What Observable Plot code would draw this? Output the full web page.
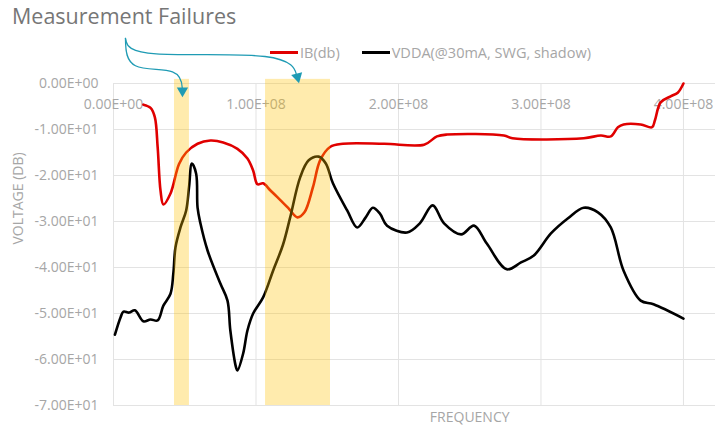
<!DOCTYPE html>
<html>
<head>
<meta charset="utf-8">
<script src="https://cdn.jsdelivr.net/npm/d3@7"></script>
<script src="https://cdn.jsdelivr.net/npm/@observablehq/plot@0.6"></script>
<style>
  html, body { margin: 0; padding: 0; background: #fff; }
  #wrap { position: relative; width: 715px; height: 425px; font-family: "Open Sans", sans-serif; }
  #title { position: absolute; left: 12px; top: 1px; font-size: 21.5px; color: #767676; }
  #legend { position: absolute; left: 270px; top: 43px; font-size: 14.5px; color: #a6a6a6; display: flex; align-items: center; white-space: nowrap; }
  .sw { display: inline-block; width: 28px; height: 0; border-top: 3px solid; margin-right: 2px; }
  .item { display: flex; align-items: center; margin-right: 22px; }
</style>
</head>
<body>
<div id="wrap">
  <div id="chart"></div>
  <div id="title">Measurement Failures</div>
  <div id="legend"></div>
</div>
<script>
// ---- data ----
const seriesNames = ["IB(db)", "VDDA(@30mA, SWG, shadow)"];
const seriesColors = ["#e00000", "#000000"];

const ibFreq = [0.21e8,0.26e8,0.29e8,0.31e8,0.33e8,0.35e8,0.40e8,0.46e8,0.51e8,0.59e8,0.68e8,0.77e8,0.87e8,0.94e8,0.98e8,1.01e8,1.05e8,1.10e8,1.15e8,1.23e8,1.29e8,1.34e8,1.40e8,1.45e8,1.52e8,1.61e8,1.90e8,2.18e8,2.27e8,2.34e8,2.74e8,2.80e8,3.30e8,3.42e8,3.49e8,3.54e8,3.58e8,3.70e8,3.78e8,3.80e8,3.84e8,3.91e8,3.96e8,4.00e8];
const ibDb = [-4.6,-5.3,-7.3,-13.9,-23.3,-26.3,-23.9,-17.5,-15.0,-13.1,-12.4,-12.8,-14.2,-16.3,-18.9,-21.9,-21.7,-23.2,-24.7,-27.2,-29.1,-28.0,-22.5,-16.7,-13.8,-13.1,-13.1,-13.3,-11.5,-11.1,-11.3,-11.9,-11.9,-11.3,-11.5,-9.5,-8.9,-8.9,-9.5,-8.0,-4.1,-2.8,-2.0,0];

const vddaFreq = [0.01e8,0.05e8,0.07e8,0.11e8,0.15e8,0.21e8,0.26e8,0.31e8,0.35e8,0.40e8,0.42e8,0.435e8,0.47e8,0.51e8,0.53e8,0.55e8,0.58e8,0.59e8,0.61e8,0.66e8,0.75e8,0.80e8,0.82e8,0.86e8,0.87e8,0.91e8,0.94e8,0.98e8,1.05e8,1.12e8,1.19e8,1.24e8,1.31e8,1.37e8,1.44e8,1.49e8,1.54e8,1.64e8,1.71e8,1.77e8,1.82e8,1.87e8,1.92e8,2.06e8,2.15e8,2.24e8,2.32e8,2.44e8,2.53e8,2.62e8,2.76e8,2.86e8,2.95e8,3.07e8,3.19e8,3.30e8,3.40e8,3.49e8,3.58e8,3.70e8,3.79e8,4.00e8];
const vddaDb = [-54.6,-50.8,-49.6,-49.8,-49.3,-51.7,-51.3,-51.5,-48.3,-45.7,-41.3,-35.6,-31.3,-27.6,-22.6,-17.4,-19.6,-27.0,-30.4,-36.3,-43.5,-47.2,-53.7,-61.7,-62.4,-58.7,-53.7,-50.0,-46.5,-40.7,-35.0,-29.1,-20.4,-16.7,-15.9,-17.4,-21.7,-27.6,-31.3,-29.1,-27.0,-28.3,-30.9,-32.4,-30.4,-26.5,-30.4,-32.8,-30.9,-34.8,-40.4,-38.9,-37.4,-32.6,-29.3,-27.0,-28.0,-31.3,-40.7,-47.2,-48.0,-51.1];

const xTicks = [0, 1e8, 2e8, 3e8, 4e8];
const xTickLabels = ["0.00E+00", "1.00E+08", "2.00E+08", "3.00E+08", "4.00E+08"];
const yTicks = [0, -10, -20, -30, -40, -50, -60, -70];
const yTickLabels = ["0.00E+00", "-1.00E+01", "-2.00E+01", "-3.00E+01", "-4.00E+01", "-5.00E+01", "-6.00E+01", "-7.00E+01"];

// highlighted "measurement failure" bands
const bandStart = [0.428e8, 1.067e8];
const bandEnd = [0.533e8, 1.523e8];

// annotation arrows: B-spline control points (data coordinates)
const arrow1Freq = [0.084e8, 0.091e8, 0.477e8, 0.484e8];
const arrow1Db = [9.8, 2.4, 3.7, -2.0];
const arrow2Freq = [0.084e8, 0.119e8, 1.242e8, 1.291e8];
const arrow2Db = [9.8, 5.4, 7.2, 1.0];
const arrowAngle = [180, 166];

// ---- build tables ----
const ib = ibFreq.map((f, i) => ({f, v: ibDb[i]}));
const vdda = vddaFreq.map((f, i) => ({f, v: vddaDb[i]}));
const xt = xTicks.map((v, i) => ({v, label: xTickLabels[i]}));
const yt = yTicks.map((v, i) => ({v, label: yTickLabels[i]}));
const bands = bandStart.map((s, i) => ({s, e: bandEnd[i]}));
const a1 = arrow1Freq.map((f, i) => ({f, v: arrow1Db[i]}));
const a2 = arrow2Freq.map((f, i) => ({f, v: arrow2Db[i]}));
const heads = [a1[a1.length - 1], a2[a2.length - 1]].map((d, i) => ({...d, a: arrowAngle[i]}));

const tickColor = "#a6a6a6";
const gridColor = "#e3e3e3";
const teal = "#1f9bb4";

const chart = Plot.plot({
  width: 715,
  height: 425,
  marginLeft: 113,
  marginRight: 0,
  marginTop: 83,
  marginBottom: 20,
  style: {fontFamily: "'Open Sans', sans-serif", background: "transparent"},
  x: {domain: [0, 4.225e8], axis: null},
  y: {domain: [-70, 0], axis: null},
  marks: [
    Plot.gridX(xTicks, {stroke: gridColor, strokeOpacity: 1}),
    Plot.gridY(yTicks, {stroke: gridColor, strokeOpacity: 1, x1: 0, x2: 4.225e8}),
    Plot.text(yt, {frameAnchor: "left", y: "v", text: "label", textAnchor: "end", dx: -15, fill: tickColor, fontSize: 14}),
    Plot.text(xt, {x: "v", y: 0, text: "label", dy: 21, fill: tickColor, fontSize: 14}),
    Plot.line(ib, {x: "f", y: "v", stroke: seriesColors[0], strokeWidth: 2.6, curve: "catmull-rom"}),
    Plot.line(vdda, {x: "f", y: "v", stroke: seriesColors[1], strokeWidth: 2.6, curve: "catmull-rom"}),
    Plot.rect(bands, {x1: "s", x2: "e", y1: -70, y2: 0.9, fill: "#ffc000", fillOpacity: 0.32}),
    Plot.line(a1, {x: "f", y: "v", stroke: teal, strokeWidth: 1.3, curve: "basis"}),
    Plot.line(a2, {x: "f", y: "v", stroke: teal, strokeWidth: 1.3, curve: "basis"}),
    Plot.dot(heads, {x: "f", y: "v", symbol: "triangle", r: 4.2, fill: teal, stroke: "none", rotate: "a", dy: -2}),
    Plot.text(["FREQUENCY"], {x: 2.5e8, frameAnchor: "bottom", lineAnchor: "middle", dy: 12, fill: tickColor, fontSize: 14}),
    Plot.text(["VOLTAGE (DB)"], {frameAnchor: "left", dx: -95, rotate: -90, fill: tickColor, fontSize: 14})
  ]
});
document.getElementById("chart").appendChild(chart);

const legend = document.getElementById("legend");
seriesNames.forEach((n, i) => {
  const it = document.createElement("span");
  it.className = "item";
  const sw = document.createElement("span");
  sw.className = "sw";
  sw.style.borderColor = seriesColors[i];
  it.appendChild(sw);
  it.appendChild(document.createTextNode(n));
  legend.appendChild(it);
});
</script>
</body>
</html>
